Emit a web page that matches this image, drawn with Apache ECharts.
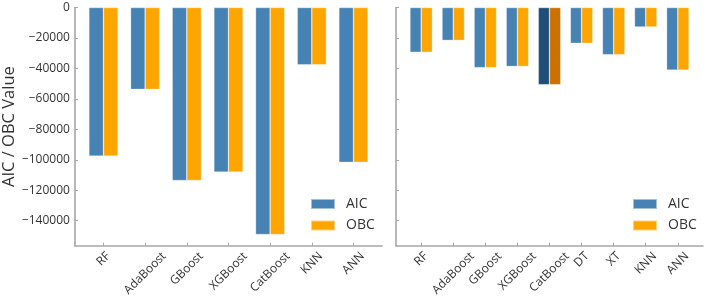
<!DOCTYPE html>
<html>
<head>
<meta charset="utf-8">
<script src="https://cdn.jsdelivr.net/npm/echarts@6/dist/echarts.min.js"></script>
<style>
  html, body { margin: 0; padding: 0; background: #fff; }
  #main { width: 708px; height: 302px; }
</style>
</head>
<body>
<div id="main"></div>
<script>
// left panel
const leftModels = ["RF", "AdaBoost", "GBoost", "XGBoost", "CatBoost", "KNN", "ANN"];
const leftAIC = [-97600, -53800, -113600, -108100, -149100, -37600, -101700];
const leftOBC = [-97600, -53800, -113600, -108100, -149100, -37600, -101700];

// right panel
const rightModels = ["RF", "AdaBoost", "GBoost", "XGBoost", "CatBoost", "DT", "XT", "KNN", "ANN"];
const rightAIC = [-29400, -21600, -39500, -38700, -50700, -23500, -31000, -12800, -41100];
const rightOBC = [-29400, -21600, -39500, -38700, -50700, -23500, -31000, -12800, -41100];
const highlight = "CatBoost";

const yTicks = [-140000, -120000, -100000, -80000, -60000, -40000, -20000, 0];

const chart = echarts.init(document.getElementById("main"));

const font = "Open Sans";
const axisColor = "#a6a6a6";
const textColor = "#333";
const colors = { AIC: "#4682B4", OBC: "#FFA500" };
const darkColors = { AIC: "#1F4E79", OBC: "#CC7000" };

function minus(v) {
  return String(v).replace("-", "\u2212");
}

// measure label width so rotated labels can be centred under the tick (matplotlib style)
const ctx = document.createElement("canvas").getContext("2d");
ctx.font = "12px '" + font + "'";

function xAxis(idx, names, pad) {
  const ticks = names.map((n, i) => i);
  const rich = {};
  names.forEach((n, i) => {
    const w = ctx.measureText(n).width;
    rich["l" + i] = {
      fontFamily: font,
      fontSize: 12,
      color: textColor,
      padding: [w * 0.5, w * 0.5, 0, 0]
    };
  });
  return {
    type: "value",
    gridIndex: idx,
    min: -pad,
    max: names.length - 1 + pad,
    splitLine: { show: false },
    axisLine: { show: true, onZero: false, lineStyle: { color: axisColor, width: 1.6 } },
    axisTick: { show: true, inside: true, length: 3, customValues: ticks, lineStyle: { color: axisColor } },
    axisLabel: {
      customValues: ticks,
      rotate: 45,
      margin: 8.5,
      align: "center",
      verticalAlign: "middle",
      fontFamily: font,
      fontSize: 12,
      color: textColor,
      rich: rich,
      formatter: v => {
        const i = Math.round(v);
        return "{l" + i + "|" + names[i] + "}";
      }
    }
  };
}

function yAxis(idx, showLabels) {
  return {
    type: "value",
    gridIndex: idx,
    min: -156450,
    max: 0,
    splitLine: { show: false },
    axisLine: { show: true, onZero: false, lineStyle: { color: axisColor, width: 1.6 } },
    axisTick: { show: true, inside: true, length: 3, customValues: yTicks, lineStyle: { color: axisColor } },
    axisLabel: {
      show: showLabels,
      customValues: yTicks,
      margin: 5,
      fontFamily: font,
      fontSize: 12,
      color: textColor,
      formatter: v => minus(v)
    },
    name: showLabels ? "AIC / OBC Value" : "",
    nameLocation: "middle",
    nameGap: 55,
    nameTextStyle: { fontFamily: font, fontSize: 16.5, color: textColor }
  };
}

function bars(name, values, names, idx) {
  return {
    name: name,
    type: "bar",
    xAxisIndex: idx,
    yAxisIndex: idx,
    barWidth: "35%",
    barGap: "0%",
    itemStyle: { color: colors[name], borderColor: "rgba(255,255,255,0.5)", borderWidth: 0.6 },
    data: values.map((v, i) => {
      const item = { value: [i, v] };
      if (idx === 1 && names[i] === highlight) {
        item.itemStyle = { color: darkColors[name] };
      }
      return item;
    })
  };
}

function legend(left) {
  return {
    orient: "vertical",
    left: left,
    top: 197,
    padding: 0,
    itemWidth: 24,
    itemHeight: 10,
    itemGap: 7.5,
    icon: "rect",
    data: ["AIC", "OBC"],
    formatter: "{t|{name}}",
    textStyle: {
      fontFamily: font,
      fontSize: 14,
      color: textColor,
      rich: { t: { fontFamily: font, fontSize: 14, color: textColor, padding: [0, 0, 0, 6] } }
    }
  };
}

const option = {
  animation: false,
  grid: [
    { left: 73, right: 326, top: 7.5, bottom: 56.3 },
    { left: 396, right: 5, top: 7.5, bottom: 56.3 }
  ],
  xAxis: [xAxis(0, leftModels, 0.685), xAxis(1, rightModels, 0.785)],
  yAxis: [yAxis(0, true), yAxis(1, false)],
  legend: [legend(310), legend(632)],
  series: [
    bars("AIC", leftAIC, leftModels, 0),
    bars("OBC", leftOBC, leftModels, 0),
    bars("AIC", rightAIC, rightModels, 1),
    bars("OBC", rightOBC, rightModels, 1)
  ]
};

chart.setOption(option);
</script>
</body>
</html>
